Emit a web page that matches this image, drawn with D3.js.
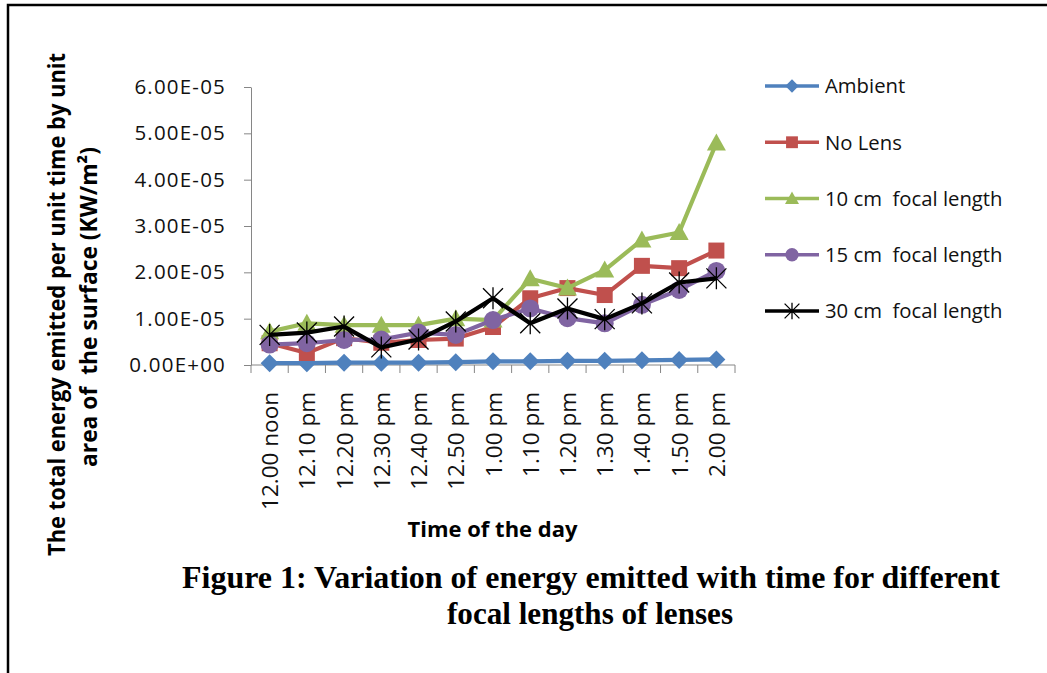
<!DOCTYPE html>
<html><head><meta charset="utf-8">
<script src="https://cdn.jsdelivr.net/npm/d3@7"></script>
<style>body{margin:0;background:#fff} text{white-space:pre}</style>
</head><body>
<svg id="c" width="1047" height="673"></svg>
<script>
const categories = ["12.00 noon","12.10 pm","12.20 pm","12.30 pm","12.40 pm","12.50 pm","1.00 pm","1.10 pm","1.20 pm","1.30 pm","1.40 pm","1.50 pm","2.00 pm"];
const ambient   = [0.04e-5,0.04e-5,0.05e-5,0.05e-5,0.05e-5,0.06e-5,0.08e-5,0.08e-5,0.09e-5,0.09e-5,0.10e-5,0.11e-5,0.12e-5];
const noLens    = [0.47e-5,0.26e-5,0.58e-5,0.48e-5,0.54e-5,0.57e-5,0.82e-5,1.44e-5,1.66e-5,1.51e-5,2.14e-5,2.09e-5,2.47e-5];
const focal10   = [0.72e-5,0.90e-5,0.86e-5,0.86e-5,0.86e-5,1.00e-5,0.97e-5,1.86e-5,1.66e-5,2.05e-5,2.70e-5,2.86e-5,4.79e-5];
const focal15   = [0.44e-5,0.47e-5,0.54e-5,0.55e-5,0.70e-5,0.65e-5,0.97e-5,1.22e-5,1.01e-5,0.90e-5,1.30e-5,1.62e-5,2.03e-5];
const focal30   = [0.65e-5,0.70e-5,0.83e-5,0.38e-5,0.55e-5,0.94e-5,1.44e-5,0.90e-5,1.22e-5,0.99e-5,1.33e-5,1.78e-5,1.87e-5];
const seriesNames  = ["Ambient","No Lens","10 cm  focal length","15 cm  focal length","30 cm  focal length"];
const seriesValues = [ambient, noLens, focal10, focal15, focal30];
const seriesColors = ["#4F81BD","#C0504D","#9BBB59","#8064A2","#000000"];
const seriesMarkers = ["diamond","square","triangle","circle","star"];
const yTickValues = [0,1e-5,2e-5,3e-5,4e-5,5e-5,6e-5];
const yTickLabels = ["0.00E+00","1.00E-05","2.00E-05","3.00E-05","4.00E-05","5.00E-05","6.00E-05"];
const yTitleLines = ["The total energy emitted per unit time by unit","area of  the surface (KW/m²)"];
const xTitle = "Time of the day";
const captionLines = ["Figure 1: Variation of energy emitted with time for different","focal lengths of lenses"];

const svg = d3.select("#c");
svg.append("rect").attr("width",1047).attr("height",673).attr("fill","#fff");
svg.append("path").attr("d","M8,673V5H1047").attr("fill","none").attr("stroke","#000").attr("stroke-width",2.5);

const x = d3.scaleBand().domain(categories).range([251,735]).padding(0);
const y = d3.scaleLinear().domain([0,6e-5]).range([365,87]);
const cx = c => x(c) + x.bandwidth()/2;
const axisColor = "#868686";

// Y axis
const ya = svg.append("g").attr("transform","translate(251,0)")
  .call(d3.axisLeft(y).tickValues(yTickValues).tickFormat((d,i)=>yTickLabels[i]).tickSize(7).tickSizeOuter(0).tickPadding(18));
ya.select(".domain").attr("stroke",axisColor);
ya.selectAll(".tick line").attr("stroke",axisColor);
ya.selectAll(".tick text").attr("font-family","Open Sans").attr("font-size",20.5).attr("letter-spacing",1.2).attr("fill","#111");

// X axis
const xa = svg.append("g");
xa.append("line").attr("x1",x.range()[0]).attr("x2",x.range()[1]).attr("y1",y(0)).attr("y2",y(0)).attr("stroke",axisColor);
const bounds = categories.map(c=>x(c)).concat([x.range()[1]]);
xa.selectAll("line.bt").data(bounds).enter().append("line").attr("class","bt")
  .attr("x1",d=>d).attr("x2",d=>d).attr("y1",y(0)).attr("y2",y(0)+8).attr("stroke",axisColor);
xa.selectAll("text").data(categories).enter().append("text")
  .attr("transform",d=>`translate(${cx(d)},392) rotate(-90)`)
  .attr("text-anchor","end").attr("dy","0.38em")
  .attr("font-family","Open Sans").attr("font-size",22.5).attr("fill","#111").text(d=>d);

// Titles
svg.append("text").attr("x",492.5).attr("y",537).attr("text-anchor","middle")
  .attr("font-family","Open Sans").attr("font-weight","bold").attr("font-size",21.5)
  .attr("textLength",170).attr("lengthAdjust","spacingAndGlyphs").attr("fill","#000").text(xTitle);
const ytl = [{t:yTitleLines[0],bx:65,cy:304.5,len:503},{t:yTitleLines[1],bx:97,cy:307,len:320}];
ytl.forEach(o=>{
  svg.append("text").attr("transform",`translate(${o.bx},${o.cy}) rotate(-90)`)
    .attr("text-anchor","middle").attr("font-family","Open Sans").attr("font-weight","bold").attr("font-size",23)
    .attr("textLength",o.len).attr("lengthAdjust","spacingAndGlyphs").attr("fill","#000").text(o.t);
});
const cap = [{t:captionLines[0],x0:182,y0:588,len:818},{t:captionLines[1],x0:447,y0:624,len:286}];
cap.forEach(o=>{
  svg.append("text").attr("x",o.x0).attr("y",o.y0)
    .attr("font-family","Liberation Serif").attr("font-weight","bold").attr("font-size",31)
    .attr("textLength",o.len).attr("lengthAdjust","spacingAndGlyphs").attr("fill","#000").text(o.t);
});

// markers
function marker(g, type, color, s){
  if(type==="diamond") g.append("path").attr("d",`M0,${-9*s}L${9*s},0L0,${9*s}L${-9*s},0Z`).attr("fill",color);
  else if(type==="square") g.append("rect").attr("x",-8*s).attr("y",-8*s).attr("width",16*s).attr("height",16*s).attr("fill",color);
  else if(type==="triangle") g.append("path").attr("d",`M0,${-9.5*s}L${9.5*s},${7.5*s}L${-9.5*s},${7.5*s}Z`).attr("fill",color);
  else if(type==="circle") g.append("circle").attr("r",9*s).attr("fill",color);
  else if(type==="star") g.append("path").attr("d",`M${-10*s},${-10*s}L${10*s},${10*s}M${-10*s},${10*s}L${10*s},${-10*s}M0,${-11*s}V${11*s}`)
      .attr("stroke",color).attr("stroke-width",1.3).attr("fill","none");
}

const line = d3.line().x((d,i)=>cx(categories[i])).y(d=>y(d));
seriesValues.forEach((vals,si)=>{
  const g = svg.append("g");
  g.append("path").datum(vals).attr("d",line).attr("fill","none")
    .attr("stroke",seriesColors[si]).attr("stroke-width",4.2).attr("stroke-linejoin","round");
  vals.forEach((v,i)=>{
    const mg = g.append("g").attr("transform",`translate(${cx(categories[i])},${y(v)})`);
    marker(mg, seriesMarkers[si], seriesColors[si], 1);
  });
});

// legend
const legendY = d3.scalePoint().domain(seriesNames).range([86,311]);
seriesNames.forEach((n,si)=>{
  const ly = legendY(n);
  const g = svg.append("g");
  g.append("line").attr("x1",765).attr("x2",819).attr("y1",ly).attr("y2",ly).attr("stroke",seriesColors[si]).attr("stroke-width",3.5);
  const mg = g.append("g").attr("transform",`translate(792,${ly})`);
  marker(mg, seriesMarkers[si], seriesColors[si], 0.74);
  g.append("text").attr("x",825).attr("y",ly).attr("dy","0.36em").attr("font-family","Open Sans").attr("font-size",20.3).attr("fill","#111").text(n);
});
</script>
</body></html>
